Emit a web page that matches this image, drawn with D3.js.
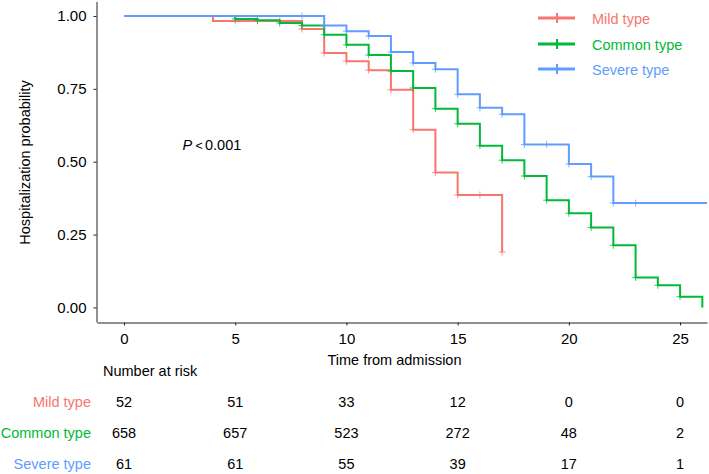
<!DOCTYPE html>
<html>
<head>
<meta charset="utf-8">
<script src="https://cdn.jsdelivr.net/npm/d3@7"></script>
<style>
  html, body { margin: 0; padding: 0; background: #fff; }
  svg { display: block; font-family: "Liberation Sans", Arial, sans-serif; }
</style>
</head>
<body>
<svg id="chart" width="709" height="474"></svg>
<script>
// ---- data ----
const seriesNames = ["Mild type", "Common type", "Severe type"];
const seriesColors = ["#F8766D", "#00BA38", "#619CFF"];

const mildTimes = [0, 4, 8, 9, 10, 11, 12, 13, 14, 15, 17];
const mildSurv  = [1, 0.983, 0.955, 0.873, 0.845, 0.814, 0.747, 0.610, 0.463, 0.386, 0.190];
const mildCensor = [5, 6, 7, 8, 9, 10, 11, 12, 13, 14, 15, 16, 17];

const commonTimes = [0, 5, 6, 7, 8, 9, 10, 11, 12, 13, 14, 15, 16, 17, 18, 19, 20, 21, 22, 23, 24, 25, 26];
const commonSurv  = [1, 0.990, 0.985, 0.976, 0.967, 0.936, 0.901, 0.866, 0.811, 0.753, 0.682, 0.630, 0.555, 0.505, 0.451, 0.368, 0.323, 0.274, 0.213, 0.103, 0.076, 0.037, 0.0];
const commonCensor = [5, 6, 7, 8, 9, 10, 11, 12, 13, 14, 15, 16, 17, 18, 19, 20, 21, 22, 23, 24, 25];

const severeTimes = [0, 9, 10, 11, 12, 13, 14, 15, 16, 17, 18, 20, 21, 22];
const severeSurv  = [1, 0.967, 0.948, 0.931, 0.876, 0.839, 0.817, 0.731, 0.685, 0.663, 0.559, 0.492, 0.449, 0.358];
const severeCensor = [8, 9, 10, 11, 12, 13, 14, 15, 16, 17, 18, 19, 20, 21, 22, 23];
const severeEndsAtAxis = true;

const xTicks = [0, 5, 10, 15, 20, 25];
const yTicks = [0, 0.25, 0.5, 0.75, 1];
const riskMild   = [52, 51, 33, 12, 0, 0];
const riskCommon = [658, 657, 523, 272, 48, 2];
const riskSevere = [61, 61, 55, 39, 17, 1];

// ---- layout ----
const svg = d3.select("#chart");
const xDomain = [-1.214, 26.21];
const x = d3.scaleLinear().domain(xDomain).range([97, 707]);
const y = d3.scaleLinear().domain([-0.05, 1.05]).range([322, 1.4]);
const textCol = "#000";

// axes
const yAxis = svg.append("g").attr("transform", "translate(96.5,0)")
  .call(d3.axisLeft(y).tickValues(yTicks).tickFormat(d3.format(".2f")).tickSize(3).tickSizeOuter(0).tickPadding(7));
const xAxis = svg.append("g").attr("transform", "translate(0,322.5)")
  .call(d3.axisBottom(x).tickValues(xTicks).tickFormat(d3.format("d")).tickSize(3).tickSizeOuter(0).tickPadding(6));
[yAxis, xAxis].forEach(g => {
  g.selectAll("path.domain").attr("stroke", "#222").attr("stroke-width", 1);
  g.selectAll(".tick line").attr("stroke", "#222");
  g.selectAll(".tick text").attr("fill", textCol).style("font-size", "15px")
    .style("font-family", '"Liberation Sans", Arial, sans-serif');
});
xAxis.selectAll(".tick text").attr("dy", "0.85em");

// axis titles
svg.append("text").attr("x", 394.5).attr("y", 365).attr("text-anchor", "middle").attr("fill", textCol)
  .style("font-size", "14.5px").text("Time from admission");
svg.append("text").attr("transform", "translate(29.5,162.5) rotate(-90)")
  .attr("text-anchor", "middle").attr("fill", textCol)
  .style("font-size", "14.5px").text("Hospitalization probability");

// curves
const series = [
  { times: mildTimes, surv: mildSurv, censor: mildCensor, extend: false },
  { times: commonTimes, surv: commonSurv, censor: commonCensor, extend: false },
  { times: severeTimes, surv: severeSurv, censor: severeCensor, extend: severeEndsAtAxis }
];
const line = d3.line().x(d => x(d[0])).y(d => y(d[1])).curve(d3.curveStepAfter);
const plot = svg.append("g");
series.forEach((s, i) => {
  const pts = s.times.map((t, j) => [t, s.surv[j]]);
  if (s.extend) pts.push([xDomain[1], s.surv[s.surv.length - 1]]);
  plot.append("path").datum(pts).attr("d", line)
    .attr("fill", "none").attr("stroke", seriesColors[i]).attr("stroke-width", 2);
  const valAt = t => { let v = s.surv[0]; s.times.forEach((tt, j) => { if (tt <= t) v = s.surv[j]; }); return v; };
  s.censor.forEach(t => {
    const cx = x(t), cy = y(valAt(t));
    plot.append("path").attr("d", `M${cx - 3.5},${cy}H${cx + 3.5}M${cx},${cy - 3.5}V${cy + 3.5}`)
      .attr("stroke", seriesColors[i]).attr("stroke-width", 1).attr("opacity", 0.75);
  });
});

// p-value
const pt = svg.append("text").attr("y", 150).attr("fill", textCol).style("font-size", "14.5px");
pt.append("tspan").attr("x", 182.5).style("font-style", "italic").text("P");
pt.append("tspan").attr("x", 195.5).style("font-size", "12.5px").text("<");
pt.append("tspan").attr("x", 205).text("0.001");

// legend
const legY = [18, 44, 69];
seriesNames.forEach((name, i) => {
  const g = svg.append("g");
  g.append("line").attr("x1", 538).attr("x2", 575).attr("y1", legY[i]).attr("y2", legY[i])
    .attr("stroke", seriesColors[i]).attr("stroke-width", 3);
  g.append("line").attr("x1", 557).attr("x2", 557).attr("y1", legY[i] - 5).attr("y2", legY[i] + 5)
    .attr("stroke", seriesColors[i]).attr("stroke-width", 2);
  g.append("text").attr("x", 592).attr("y", legY[i] + 5.5).attr("fill", seriesColors[i])
    .style("font-size", "14.5px").text(name);
});

// risk table
svg.append("text").attr("x", 103).attr("y", 376).attr("fill", textCol)
  .style("font-size", "14.5px").text("Number at risk");
const riskRows = [riskMild, riskCommon, riskSevere];
const rowY = [407, 438, 469];
riskRows.forEach((row, i) => {
  svg.append("text").attr("x", 91).attr("y", rowY[i]).attr("text-anchor", "end")
    .attr("fill", seriesColors[i]).style("font-size", "14.5px").text(seriesNames[i]);
  row.forEach((v, j) => {
    svg.append("text").attr("x", x(xTicks[j])).attr("y", rowY[i]).attr("text-anchor", "middle")
      .attr("fill", textCol).style("font-size", "14.5px").text(v);
  });
});
</script>
</body>
</html>
